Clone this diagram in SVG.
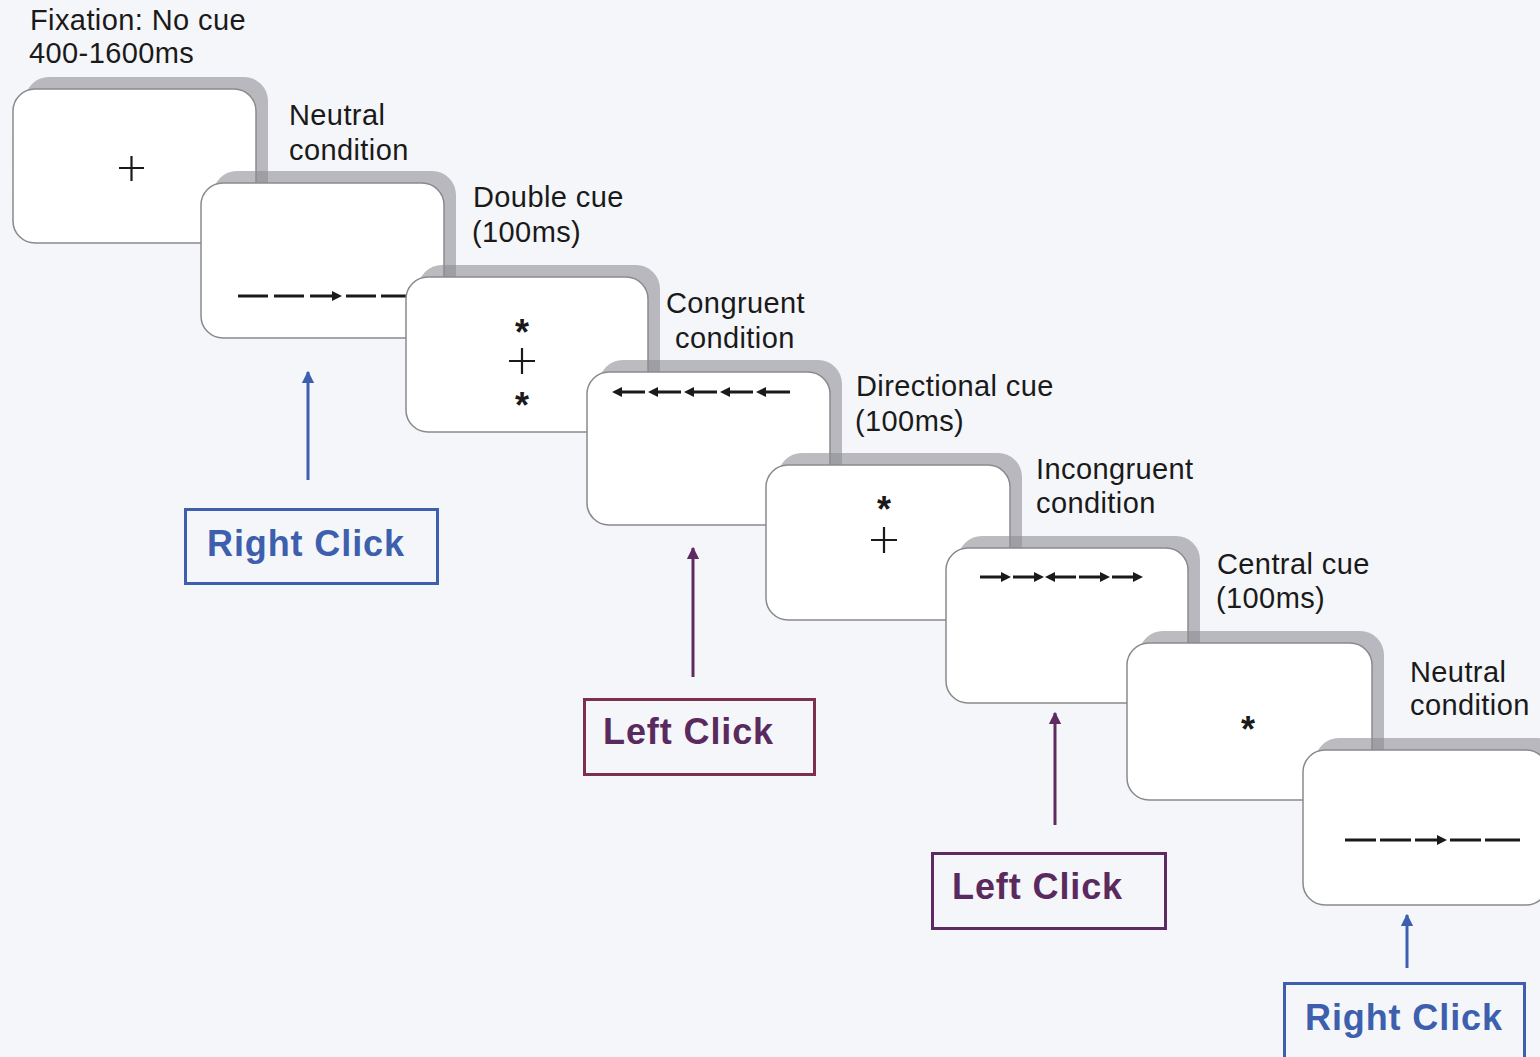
<svg xmlns="http://www.w3.org/2000/svg" width="1540" height="1057" viewBox="0 0 1540 1057">
<defs>
<style>
.bg{fill:#f5f6f9}
.sh{fill:#8c8c92;opacity:0.58}
.card{fill:#ffffff;stroke:#8a8a8e;stroke-width:1.5}
.lbl{font-family:"Liberation Sans",Arial,sans-serif;font-size:29px;letter-spacing:0.4px;fill:#1a1a1a}
.stim{stroke:#1a1a1a;stroke-width:3;fill:none}
.cross{stroke:#1a1a1a;stroke-width:2.2;fill:none}
.star{font-family:"Liberation Sans",Arial,sans-serif;font-size:36px;font-weight:bold;fill:#1a1a1a;text-anchor:middle}
.head{fill:#1a1a1a}
.btn{font-family:"Liberation Sans",Arial,sans-serif;font-size:36px;font-weight:bold;letter-spacing:0.9px}
.blue{stroke:#3d5fae;fill:none;stroke-width:3}
.purp{stroke:#5e2a62;fill:none;stroke-width:3}
.maroon{stroke:#7d2f4e;fill:none;stroke-width:3}
</style>
<marker id="ab" viewBox="0 0 10 10" refX="9" refY="5" markerWidth="4.2" markerHeight="4.2" orient="auto" markerUnits="strokeWidth"><path d="M0,0 L10,5 L0,10 z" fill="#3d5fae"/></marker>
<marker id="ap" viewBox="0 0 10 10" refX="9" refY="5" markerWidth="4.2" markerHeight="4.2" orient="auto" markerUnits="strokeWidth"><path d="M0,0 L10,5 L0,10 z" fill="#5e2a62"/></marker>
</defs>
<rect class="bg" x="0" y="0" width="1540" height="1057"/>

<g id="card1">
<rect class="sh" x="25" y="77" width="243" height="154" rx="24"/>
<rect class="card" x="13" y="89" width="243" height="154" rx="22"/>
<path class="cross" d="M119,168 H144 M131.5,156 V181"/>
</g>
<g id="card2">
<rect class="sh" x="213" y="171" width="243" height="155" rx="24"/>
<rect class="card" x="201" y="183" width="243" height="155" rx="22"/>
<path class="stim" d="M238,296 H268 M274,296 H304 M310,296 H334 M346,296 H376 M381,296 H411"/>
<polygon class="head" points="342,296 332,291 332,301"/>
</g>
<g id="card3">
<rect class="sh" x="418" y="265" width="242" height="155" rx="24"/>
<rect class="card" x="406" y="277" width="242" height="155" rx="22"/>
<text class="star" x="522" y="345">*</text>
<path class="cross" d="M509,361 H535 M522,348 V374"/>
<text class="star" x="522" y="418">*</text>
</g>
<g id="card4">
<rect class="sh" x="599" y="360" width="243" height="153" rx="24"/>
<rect class="card" x="587" y="372" width="243" height="153" rx="22"/>
<path class="stim" d="M619,392 H645 M655,392 H681 M691,392 H717 M727,392 H753 M763,392 H790"/>
<polygon class="head" points="612,392 622,387 622,397"/>
<polygon class="head" points="648,392 658,387 658,397"/>
<polygon class="head" points="684,392 694,387 694,397"/>
<polygon class="head" points="720,392 730,387 730,397"/>
<polygon class="head" points="756,392 766,387 766,397"/>
</g>
<g id="card5">
<rect class="sh" x="778" y="453" width="244" height="155" rx="24"/>
<rect class="card" x="766" y="465" width="244" height="155" rx="22"/>
<text class="star" x="884" y="522">*</text>
<path class="cross" d="M871,540 H897 M884,527 V553"/>
</g>
<g id="card6">
<rect class="sh" x="958" y="536" width="242" height="155" rx="24"/>
<rect class="card" x="946" y="548" width="242" height="155" rx="22"/>
<path class="stim" d="M980,577 H1003 M1013,577 H1036 M1053,577 H1076 M1079,577 H1102 M1112,577 H1135"/>
<polygon class="head" points="1011,577 1001,572 1001,582"/>
<polygon class="head" points="1044,577 1034,572 1034,582"/>
<polygon class="head" points="1045,577 1055,572 1055,582"/>
<polygon class="head" points="1110,577 1100,572 1100,582"/>
<polygon class="head" points="1143,577 1133,572 1133,582"/>
</g>
<g id="card7">
<rect class="sh" x="1139" y="631" width="245" height="157" rx="24"/>
<rect class="card" x="1127" y="643" width="245" height="157" rx="22"/>
<text class="star" x="1248" y="742">*</text>
</g>
<g id="card8">
<rect class="sh" x="1315" y="738" width="245" height="155" rx="24"/>
<rect class="card" x="1303" y="750" width="245" height="155" rx="22"/>
<path class="stim" d="M1345,840 H1376 M1380,840 H1411 M1415,840 H1439 M1450,840 H1481 M1485,840 H1520"/>
<polygon class="head" points="1447,840 1437,835 1437,845"/>
</g>

<g id="labels">
<text class="lbl" x="30" y="30">Fixation: No cue</text>
<text class="lbl" x="29" y="63">400-1600ms</text>
<text class="lbl" x="289" y="125">Neutral</text>
<text class="lbl" x="289" y="160">condition</text>
<text class="lbl" x="473" y="207">Double cue</text>
<text class="lbl" x="472" y="242">(100ms)</text>
<text class="lbl" x="666" y="313">Congruent</text>
<text class="lbl" x="675" y="348">condition</text>
<text class="lbl" x="856" y="396">Directional cue</text>
<text class="lbl" x="855" y="431">(100ms)</text>
<text class="lbl" x="1036" y="479">Incongruent</text>
<text class="lbl" x="1036" y="513">condition</text>
<text class="lbl" x="1217" y="574">Central cue</text>
<text class="lbl" x="1216" y="608">(100ms)</text>
<text class="lbl" x="1410" y="682">Neutral</text>
<text class="lbl" x="1410" y="715">condition</text>
</g>

<g id="connectors">
<line class="blue" x1="308" y1="480" x2="308" y2="372" marker-end="url(#ab)"/>
<line class="purp" x1="693" y1="677" x2="693" y2="548" marker-end="url(#ap)"/>
<line class="purp" x1="1055" y1="825" x2="1055" y2="713" marker-end="url(#ap)"/>
<line class="blue" x1="1407" y1="968" x2="1407" y2="915" marker-end="url(#ab)"/>
</g>

<g id="rightclick1">
<rect class="blue" x="185.5" y="509.5" width="252" height="74"/>
<text class="btn" x="207" y="556" fill="#3d5fae">Right Click</text>
</g>
<g id="leftclick1">
<rect class="maroon" x="584.5" y="699.5" width="230" height="75"/>
<text class="btn" x="603" y="744" fill="#5a2a5e">Left Click</text>
</g>
<g id="leftclick2">
<rect class="purp" x="932.5" y="853.5" width="233" height="75"/>
<text class="btn" x="952" y="899" fill="#5a2a5e">Left Click</text>
</g>
<g id="rightclick2">
<rect class="blue" x="1284.5" y="983.5" width="240" height="80"/>
<text class="btn" x="1305" y="1030" fill="#3d5fae">Right Click</text>
</g>
</svg>
